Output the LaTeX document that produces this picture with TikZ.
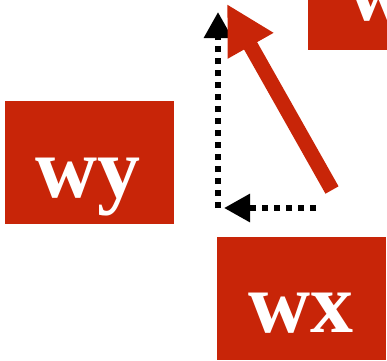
\documentclass[tikz,border=0pt]{standalone}
\usepackage{fontspec}
\setmainfont{Liberation Serif}
\usetikzlibrary{arrows.meta}
\definecolor{boxred}{RGB}{200,37,8}
\tikzset{
  redbox/.style={fill=boxred, draw=none},
  boxtext/.style={text=white, inner sep=0pt, font=\bfseries\fontsize{86}{86}\selectfont},
  dotline/.style={draw=black, line width=6pt, dash pattern=on 6pt off 6pt,
    -{Triangle[length=26pt,width=27pt]}},
  redarrow/.style={draw=boxred, line width=15pt,
    -{Triangle[length=48pt,width=49pt]}}
}
\begin{document}
\begin{tikzpicture}[x=1pt,y=-1pt]
\useasboundingbox (0,0) rectangle (387,360);
\clip (0,0) rectangle (387,360);
% boxes
\fill[redbox] (5,101) rectangle (174,224);
\node[boxtext, anchor=base] (wy) at (88,197) {wy};
\fill[redbox] (217,237) rectangle (386,360);
\node[boxtext, anchor=base] (wx) at (301,332) {wx};
\fill[redbox] (308,-73) rectangle (477,50);
\node[boxtext, anchor=base west] (wz) at (347,20) {w};
% arrows
\coordinate (c) at (218,208);
\coordinate (up) at (218,12);
\coordinate (h0) at (316,208);
\coordinate (h1) at (224,208);
\coordinate (r0) at (332,190);
\coordinate (r1) at (227,4);
\draw[dotline] (c) -- (up);
\draw[dotline] (h0) -- (h1);
\draw[redarrow] (r0) -- (r1);
\end{tikzpicture}
\end{document}
